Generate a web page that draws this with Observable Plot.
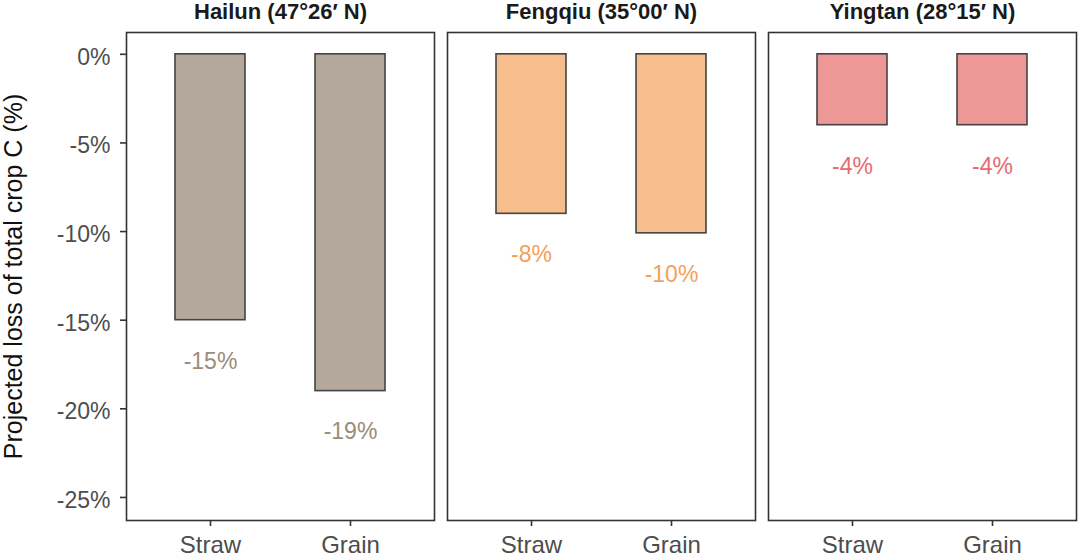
<!DOCTYPE html>
<html>
<head>
<meta charset="utf-8">
<script src="https://cdn.jsdelivr.net/npm/d3@7"></script>
<script src="https://cdn.jsdelivr.net/npm/@observablehq/plot@0.6"></script>
<style>
  html, body { margin: 0; padding: 0; background: #fff; }
  #chart { width: 1080px; height: 557px; }
  g[aria-label="y-axis label"] text { fill: #111; font-size: 25px; }
</style>
</head>
<body>
<div id="chart"></div>
<script>
const sites = ["Hailun (47°26′ N)", "Fengqiu (35°00′ N)", "Yingtan (28°15′ N)"];
const parts = ["Straw", "Grain"];
const hailunValues = [-15.0, -19.0];
const fengqiuValues = [-9.0, -10.1];
const yingtanValues = [-4.0, -4.0];
const hailunLabels = ["-15%", "-19%"];
const fengqiuLabels = ["-8%", "-10%"];
const yingtanLabels = ["-4%", "-4%"];
const barColors = ["#b3a89b", "#f5be8c", "#ee9797"];
const labelColors = ["#9c8c78", "#f4a05a", "#e8696e"];
const yTicks = [0, -5, -10, -15, -20, -25];

const valueSets = [hailunValues, fengqiuValues, yingtanValues];
const labelSets = [hailunLabels, fengqiuLabels, yingtanLabels];
const data = [];
sites.forEach((s, i) => parts.forEach((p, j) => data.push({
  site: s, part: p, value: valueSets[i][j], label: labelSets[i][j],
  fill: barColors[i], textColor: labelColors[i]
})));

const chart = Plot.plot({
  width: 1080,
  height: 557,
  marginLeft: 125,
  marginRight: 2,
  marginTop: 32,
  marginBottom: 37,
  style: { fontFamily: "'Liberation Sans', Arial, sans-serif", background: "#fff" },
  fx: { domain: sites, padding: 0.04, label: null },
  x: { domain: parts, paddingInner: 0.5, paddingOuter: 0.345, label: null },
  y: { domain: [-26.3, 1.23], label: null },
  color: { type: "identity" },
  marks: [
    Plot.frame({ stroke: "#333", strokeWidth: 1.6 }),
    Plot.barY(data, { fx: "site", x: "part", y: "value", fill: "fill", stroke: "#444", strokeWidth: 1.6 }),
    Plot.text(data, { fx: "site", x: "part", y: "value", text: "label", fill: "textColor", dy: 41, fontSize: 23, letterSpacing: 0.8 }),
    Plot.axisFx({ anchor: "top", tickSize: 0, tickPadding: 14, fontSize: 22, letterSpacing: 1.6, fontWeight: "bold", fill: "#1a1a1a", label: null }),
    Plot.axisX({ anchor: "bottom", tickSize: 6, tickPadding: 9, fontSize: 24, letterSpacing: 0.4, fill: "#4d4d4d", stroke: "#333", strokeWidth: 1.6, label: null }),
    Plot.axisY({ anchor: "left", ticks: yTicks, tickFormat: () => "", tickSize: 6, stroke: "#333", strokeWidth: 1.6,
      label: "Projected loss of total crop C (%)", labelAnchor: "center", labelArrow: "none", labelOffset: 122 }),
    Plot.axisY({ anchor: "left", ticks: yTicks, tickFormat: d => d + "%", tickSize: 0, tickPadding: 16, fontSize: 23, letterSpacing: 0.6,
      fill: "#4d4d4d", dy: 3, label: null })
  ]
});
document.getElementById("chart").appendChild(chart);
</script>
</body>
</html>
